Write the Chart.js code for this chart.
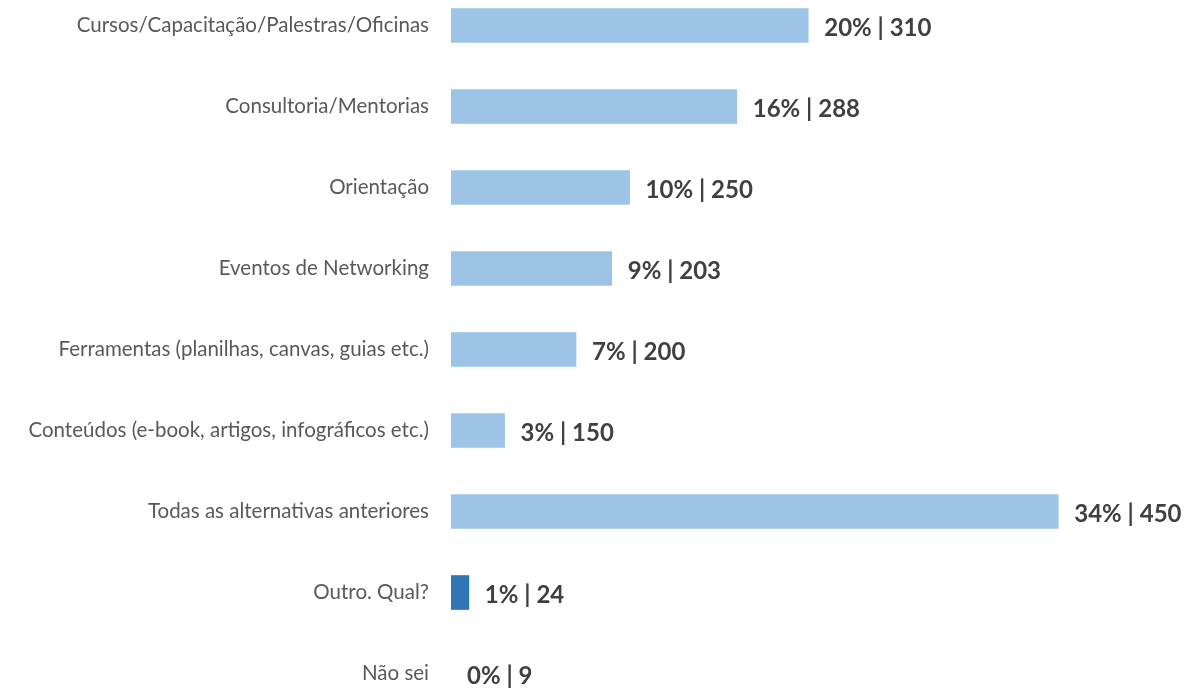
<!DOCTYPE html>
<html>
<head>
<meta charset="utf-8">
<script src="https://cdn.jsdelivr.net/npm/chart.js@4/dist/chart.umd.min.js"></script>
<style>
  html, body { margin: 0; padding: 0; background: #fff; overflow: hidden; }
  #wrap { position: absolute; left: 0; top: -15px; width: 1190px; height: 729px; }
</style>
</head>
<body>
<div id="wrap"><canvas id="chart"></canvas></div>
<script>
const categories = [
  "Cursos/Capacitação/Palestras/Oficinas",
  "Consultoria/Mentorias",
  "Orientação",
  "Eventos de Networking",
  "Ferramentas (planilhas, canvas, guias etc.)",
  "Conteúdos (e-book, artigos, infográficos etc.)",
  "Todas as alternativas anteriores",
  "Outro. Qual?",
  "Não sei"
]
const percents = [20, 16, 10, 9, 7, 3, 34, 1, 0]
const counts = [310, 288, 250, 203, 200, 150, 450, 24, 9]
const highlighted = "Outro. Qual?"

const barLabels = {
  id: "barLabels",
  afterDatasetsDraw(chart) {
    let ctx = chart.ctx
    let meta = chart.getDatasetMeta(0)
    ctx.save()
    ctx.font = "bold 24px Lato"
    ctx.fillStyle = "#404040"
    ctx.textBaseline = "middle"
    ctx.textAlign = "left"
    meta.data.forEach((bar, i) => {
      ctx.fillText(percents[i] + "% | " + counts[i], bar.x + 16, bar.y + 3)
    })
    ctx.restore()
  }
}

let ctx = document.getElementById("chart").getContext("2d")
let chart = new Chart(ctx, {
  type: "bar",
  data: {
    labels: categories,
    datasets: [{
      data: percents,
      backgroundColor: categories.map((c, i) =>
        percents[i] === 0 ? "rgba(0,0,0,0)" : (c === highlighted ? "#2E75B6" : "#9DC3E6")),
      barThickness: 34
    }]
  },
  plugins: [barLabels],
  options: {
    indexAxis: "y",
    responsive: true,
    maintainAspectRatio: false,
    animation: false,
    layout: { padding: { left: 0, right: 96, top: 0, bottom: 0 } },
    plugins: {
      legend: { display: false },
      tooltip: { enabled: false }
    },
    scales: {
      x: {
        min: 0,
        max: 36,
        display: false,
        grid: { display: false }
      },
      y: {
        grid: { display: false, drawTicks: false },
        border: { display: false },
        afterFit(scale) {
          scale.width = 451
          scale.paddingTop = 0
          scale.paddingBottom = 0
        },
        ticks: {
          padding: 22,
          color: "#595959",
          font: { family: "Lato", size: 20.5 }
        }
      }
    }
  }
})
</script>
</body>
</html>
